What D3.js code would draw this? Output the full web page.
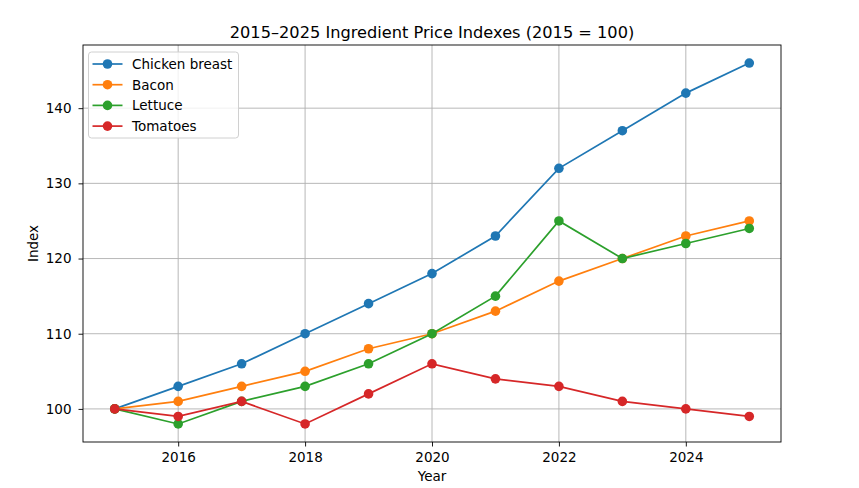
<!DOCTYPE html>
<html>
<head>
<meta charset="utf-8">
<script src="https://cdn.jsdelivr.net/npm/d3@7"></script>
<style>
  body { margin: 0; background: #fff; }
  text { font-family: "DejaVu Sans", sans-serif; }
</style>
</head>
<body>
<div id="chart"></div>
<script>
// Data
const years = [2015, 2016, 2017, 2018, 2019, 2020, 2021, 2022, 2023, 2024, 2025];
const chicken = [100, 103, 106, 110, 114, 118, 123, 132, 137, 142, 146];
const bacon = [100, 101, 103, 105, 108, 110, 113, 117, 120, 123, 125];
const lettuce = [100, 98, 101, 103, 106, 110, 115, 125, 120, 122, 124];
const tomatoes = [100, 99, 101, 98, 102, 106, 104, 103, 101, 100, 99];
const xTicks = [2016, 2018, 2020, 2022, 2024];
const yTicks = [100, 110, 120, 130, 140];

const series = [
    { name: 'Chicken breast', values: chicken, color: '#1f77b4' },
    { name: 'Bacon', values: bacon, color: '#ff7f0e' },
    { name: 'Lettuce', values: lettuce, color: '#2ca02c' },
    { name: 'Tomatoes', values: tomatoes, color: '#d62728' }
];

const width = 859, height = 488;
const margin = { top: 45, right: 78, bottom: 46, left: 83 };
const fs = 13.5;

const svg = d3.select('#chart')
    .append('svg')
    .attr('width', width)
    .attr('height', height);

// Scales (matplotlib-like 5% padding)
const xScale = d3.scaleLinear()
    .domain([2014.5, 2025.5])
    .range([margin.left, width - margin.right]);
const yScale = d3.scaleLinear()
    .domain([95.6, 148.4])
    .range([height - margin.bottom, margin.top]);

const g = svg.append('g');

// Grid
g.append('g')
    .selectAll('line')
    .data(xTicks)
    .join('line')
    .attr('x1', d => xScale(d)).attr('x2', d => xScale(d))
    .attr('y1', margin.top).attr('y2', height - margin.bottom)
    .attr('stroke', '#b0b0b0').attr('stroke-width', 0.9);
g.append('g')
    .selectAll('line')
    .data(yTicks)
    .join('line')
    .attr('x1', margin.left).attr('x2', width - margin.right)
    .attr('y1', d => yScale(d)).attr('y2', d => yScale(d))
    .attr('stroke', '#b0b0b0').attr('stroke-width', 0.9);

// Axes
const xAxis = g.append('g')
    .attr('transform', `translate(0,${height - margin.bottom})`)
    .call(d3.axisBottom(xScale).tickValues(xTicks).tickFormat(d3.format('d')).tickSize(4.5).tickPadding(5.5));
const yAxis = g.append('g')
    .attr('transform', `translate(${margin.left},0)`)
    .call(d3.axisLeft(yScale).tickValues(yTicks).tickFormat(d3.format('d')).tickSize(4.5).tickPadding(7));
[xAxis, yAxis].forEach(a => {
    a.select('.domain').remove();
    a.selectAll('text').attr('font-size', fs).attr('fill', '#000')
        .style('font-family', '"DejaVu Sans", sans-serif');
    a.selectAll('line').attr('stroke', '#000').attr('stroke-width', 0.9);
});

// Lines and markers
const line = d3.line()
    .x((d, i) => xScale(years[i]))
    .y(d => yScale(d));

series.forEach(s => {
    g.append('path')
        .datum(s.values)
        .attr('fill', 'none')
        .attr('stroke', s.color)
        .attr('stroke-width', 1.7)
        .attr('d', line);
    g.append('g')
        .selectAll('circle')
        .data(s.values)
        .join('circle')
        .attr('cx', (d, i) => xScale(years[i]))
        .attr('cy', d => yScale(d))
        .attr('r', 4.8)
        .attr('fill', s.color);
});

// Frame
g.append('rect')
    .attr('x', margin.left).attr('y', margin.top)
    .attr('width', width - margin.left - margin.right)
    .attr('height', height - margin.top - margin.bottom)
    .attr('fill', 'none').attr('stroke', '#000').attr('stroke-width', 0.9);

// Title and axis labels
svg.append('text')
    .attr('x', (margin.left + width - margin.right) / 2)
    .attr('y', 38)
    .attr('text-anchor', 'middle')
    .attr('font-size', 16.2)
    .text('2015–2025 Ingredient Price Indexes (2015 = 100)');
svg.append('text')
    .attr('x', (margin.left + width - margin.right) / 2)
    .attr('y', 481)
    .attr('text-anchor', 'middle')
    .attr('font-size', fs)
    .text('Year');
svg.append('text')
    .attr('transform', `translate(38,${(margin.top + height - margin.bottom) / 2}) rotate(-90)`)
    .attr('text-anchor', 'middle')
    .attr('font-size', fs)
    .text('Index');

// Legend
const legend = svg.append('g').attr('transform', `translate(${margin.left + 5.5},${margin.top + 7})`);
legend.append('rect')
    .attr('width', 150).attr('height', 86)
    .attr('rx', 3)
    .attr('fill', '#fff').attr('fill-opacity', 0.8)
    .attr('stroke', '#d0d0d0').attr('stroke-width', 1);
series.forEach((s, i) => {
    const yy = 12 + i * 20.7;
    legend.append('line')
        .attr('x1', 4).attr('x2', 34).attr('y1', yy).attr('y2', yy)
        .attr('stroke', s.color).attr('stroke-width', 1.7);
    legend.append('circle')
        .attr('cx', 19).attr('cy', yy).attr('r', 4.8).attr('fill', s.color);
    legend.append('text')
        .attr('x', 43.5).attr('y', yy + 5)
        .attr('font-size', fs)
        .text(s.name);
});
</script>
</body>
</html>
